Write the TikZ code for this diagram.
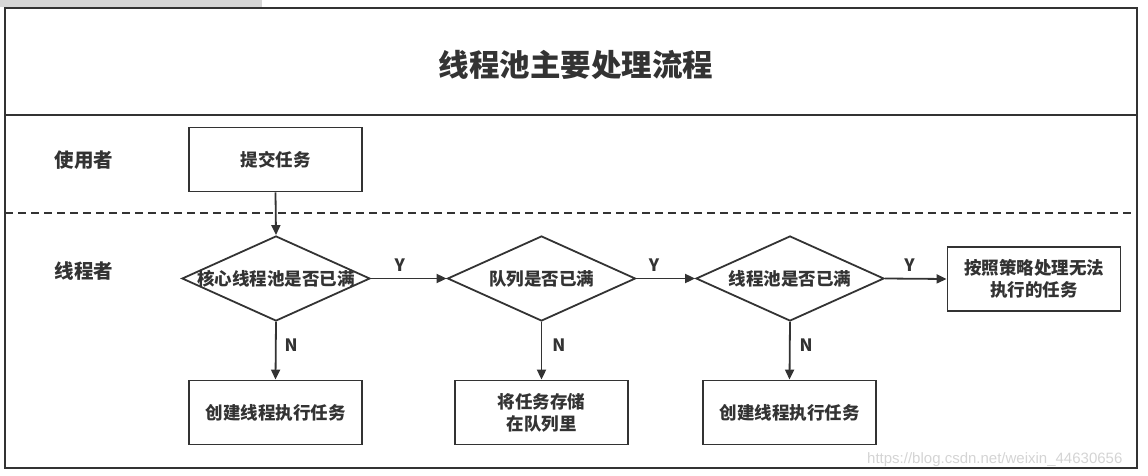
\documentclass[tikz,border=0pt]{standalone}
\usepackage{fontspec}
\setmainfont{Noto Sans CJK SC}
\newfontfamily\wmfont{Liberation Sans}
\usetikzlibrary{shapes.geometric,arrows.meta}
\definecolor{ink}{HTML}{333333}
\tikzset{
  box/.style={draw=ink, line width=1.8pt, rectangle, minimum width=173pt, minimum height=64pt, inner sep=0pt, align=center, font=\bfseries\fontsize{17.5}{22}\selectfont, text=ink},
  dia/.style={draw=ink, line width=1.8pt, diamond, minimum width=188pt, minimum height=85pt, inner sep=0pt, font=\bfseries\fontsize{17.5}{22}\selectfont, text=ink},
  lane/.style={font=\bfseries\fontsize{19.5}{24}\selectfont, text=ink, inner sep=0pt},
  conn/.style={draw=ink, line width=1.8pt, -{Triangle[length=10pt,width=9pt]}},
  yn/.style={font=\bfseries\fontsize{17}{20}\selectfont, text=ink, inner sep=0pt}
}
\begin{document}
\begin{tikzpicture}[x=1pt,y=-1pt]
\useasboundingbox (0,0) rectangle (1148,476);
\fill[black!16] (0,0) rectangle (262,7);
% watermark
\node[anchor=base west, inner sep=0pt, text=black!17, font=\wmfont\fontsize{15}{16}\selectfont] (wm) at (867,463) {https://blog.csdn.net/weixin\_44630656};
% frame
\draw[ink, line width=2.2pt] (5,8) rectangle (1137,468);
\draw[ink, line width=2pt] (5,115) -- (1137,115);
\draw[ink, line width=1.6pt, dash pattern=on 8pt off 5pt] (5,213) -- (1137,213);
% title
\node[font=\bfseries\fontsize{30.5}{34}\selectfont, text=ink] (title) at (576,65) {线程池主要处理流程};
% lanes
\node[lane] (l1) at (84,160) {使用者};
\node[lane] (l2) at (84,271) {线程者};
% nodes
\node[box] (submit) at (275.5,159.5) {提交任务};
\node[dia] (d1) at (276,278.5) {\makebox[0pt]{核心线程池是否已满}};
\node[dia] (d2) at (541.5,278.5) {\makebox[0pt]{队列是否已满}};
\node[dia] (d3) at (790,278.5) {\makebox[0pt]{线程池是否已满}};
\node[box] (reject) at (1034,279) {按照策略处理无法\\执行的任务};
\node[box] (b1) at (275.5,412.5) {创建线程执行任务};
\node[box] (b2) at (541.5,412.5) {将任务存储\\在队列里};
\node[box] (b3) at (789.5,412.5) {创建线程执行任务};
% connectors
\draw[conn] (submit.south) -- (d1.north);
\draw[conn] (d1.east) -- node[yn, pos=0.38, anchor=base, yshift=7pt] {Y} (d2.west);
\draw[conn] (d2.east) -- node[yn, pos=0.3, anchor=base, yshift=7pt] {Y} (d3.west);
\draw[conn] (d3.east) -- node[yn, pos=0.4, anchor=base, yshift=7pt] {Y} (reject.west);
\draw[conn] (d1.south) -- node[yn, pos=0.4, anchor=west, xshift=8pt] {N} (b1.north);
\draw[conn] (d2.south) -- node[yn, pos=0.4, anchor=west, xshift=10pt] {N} (b2.north);
\draw[conn] (d3.south) -- node[yn, pos=0.4, anchor=west, xshift=9pt] {N} (b3.north);
\end{tikzpicture}
\end{document}
